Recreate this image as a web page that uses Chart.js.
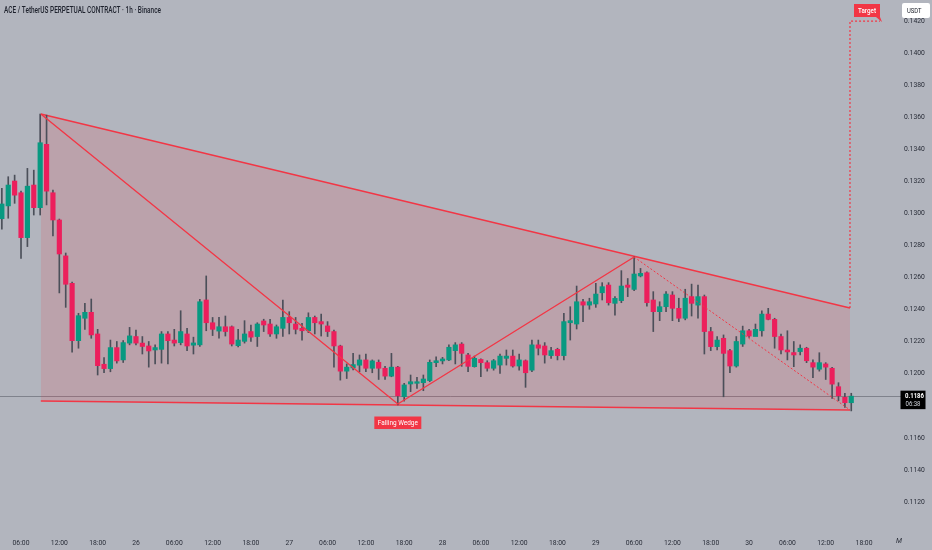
<!DOCTYPE html>
<html>
<head>
<meta charset="utf-8">
<script src="https://cdn.jsdelivr.net/npm/chart.js@4.4.0/dist/chart.umd.min.js"></script>
<style>
  html, body { margin: 0; padding: 0; background: #b2b5be; }
  #wrap { width: 932px; height: 550px; position: relative; }
</style>
</head>
<body>
<div id="wrap"><canvas id="chart"></canvas></div>
<script>
// ACE/USDT perp, 1h candles, first candle = 25th 03:00
const candleOpen = [
  0.12967, 0.13047, 0.13202, 0.13129, 0.12849, 0.13177, 0.13036, 0.13431, 0.13129, 0.12959,
  0.12735, 0.12564, 0.12206, 0.12346, 0.12383, 0.12248, 0.12059, 0.12032, 0.12163, 0.12086,
  0.12191, 0.12232, 0.12191, 0.12173, 0.12148, 0.12152, 0.12248, 0.12210, 0.12194, 0.12248,
  0.12178, 0.12180, 0.12460, 0.12318, 0.12266, 0.12293, 0.12293, 0.12175, 0.12202, 0.12263,
  0.12232, 0.12329, 0.12310, 0.12248, 0.12283, 0.12351, 0.12310, 0.12283, 0.12268, 0.12351,
  0.12325, 0.12298, 0.12263, 0.12173, 0.12016, 0.12036, 0.12053, 0.12086, 0.12034, 0.12071,
  0.12034, 0.11985, 0.12041, 0.11857, 0.11936, 0.11940, 0.11944, 0.11957, 0.12069, 0.12080,
  0.12086, 0.12144, 0.12185, 0.12117, 0.12044, 0.12089, 0.12069, 0.12034, 0.12054, 0.12096,
  0.12110, 0.12048, 0.12081, 0.12022, 0.12180, 0.12173, 0.12113, 0.12152, 0.12113, 0.12318,
  0.12310, 0.12449, 0.12428, 0.12435, 0.12505, 0.12553, 0.12439, 0.12456, 0.12553, 0.12526,
  0.12610, 0.12630, 0.12460, 0.12387, 0.12418, 0.12491, 0.12408, 0.12346, 0.12481, 0.12428,
  0.12481, 0.12263, 0.12169, 0.12221, 0.12144, 0.12048, 0.12185, 0.12268, 0.12232, 0.12268,
  0.12372, 0.12339, 0.12232, 0.12148, 0.12132, 0.12138, 0.12159, 0.12069, 0.12028, 0.12061,
  0.12034, 0.11919, 0.11853, 0.11819
];
const candleHigh = [
  0.13156, 0.13229, 0.13239, 0.13140, 0.13281, 0.13270, 0.13620, 0.13613, 0.13145, 0.12965,
  0.12753, 0.12572, 0.12377, 0.12439, 0.12466, 0.12277, 0.12100, 0.12210, 0.12201, 0.12207,
  0.12289, 0.12272, 0.12232, 0.12201, 0.12180, 0.12263, 0.12263, 0.12277, 0.12393, 0.12283,
  0.12228, 0.12464, 0.12610, 0.12351, 0.12351, 0.12360, 0.12298, 0.12277, 0.12331, 0.12304,
  0.12318, 0.12340, 0.12340, 0.12304, 0.12460, 0.12387, 0.12351, 0.12314, 0.12380, 0.12360,
  0.12372, 0.12325, 0.12272, 0.12178, 0.12061, 0.12127, 0.12117, 0.12123, 0.12086, 0.12086,
  0.12046, 0.12127, 0.12046, 0.11940, 0.11992, 0.11978, 0.11992, 0.12086, 0.12106, 0.12102,
  0.12180, 0.12194, 0.12194, 0.12127, 0.12110, 0.12093, 0.12081, 0.12089, 0.12123, 0.12148,
  0.12148, 0.12123, 0.12086, 0.12210, 0.12210, 0.12194, 0.12165, 0.12159, 0.12377, 0.12418,
  0.12547, 0.12464, 0.12471, 0.12564, 0.12568, 0.12568, 0.12481, 0.12643, 0.12594, 0.12729,
  0.12657, 0.12636, 0.12512, 0.12449, 0.12512, 0.12512, 0.12471, 0.12527, 0.12559, 0.12553,
  0.12491, 0.12289, 0.12232, 0.12242, 0.12152, 0.12232, 0.12297, 0.12277, 0.12310, 0.12393,
  0.12408, 0.12346, 0.12248, 0.12268, 0.12201, 0.12180, 0.12165, 0.12086, 0.12131, 0.12069,
  0.12040, 0.11944, 0.11878, 0.11878
];
const candleLow = [
  0.12901, 0.12970, 0.13063, 0.12720, 0.12793, 0.12990, 0.12990, 0.13053, 0.12859, 0.12504,
  0.12414, 0.12134, 0.12159, 0.12277, 0.12221, 0.11992, 0.12006, 0.12012, 0.12066, 0.12070,
  0.12180, 0.12180, 0.12123, 0.12041, 0.12061, 0.12066, 0.12061, 0.12173, 0.12180, 0.12144,
  0.12123, 0.12170, 0.12268, 0.12238, 0.12221, 0.12235, 0.12173, 0.12167, 0.12191, 0.12201,
  0.12170, 0.12263, 0.12232, 0.12221, 0.12232, 0.12248, 0.12248, 0.12210, 0.12256, 0.12248,
  0.12235, 0.12232, 0.12041, 0.11960, 0.11970, 0.12024, 0.12012, 0.12012, 0.12006, 0.11964,
  0.11964, 0.11981, 0.11805, 0.11829, 0.11888, 0.11909, 0.11894, 0.11950, 0.12044, 0.12061,
  0.12081, 0.12061, 0.12046, 0.12012, 0.12041, 0.11981, 0.12016, 0.12022, 0.12002, 0.12054,
  0.12041, 0.12022, 0.11915, 0.12012, 0.12117, 0.12066, 0.12096, 0.12086, 0.12086, 0.12210,
  0.12279, 0.12325, 0.12402, 0.12414, 0.12460, 0.12428, 0.12366, 0.12443, 0.12481, 0.12518,
  0.12604, 0.12422, 0.12263, 0.12331, 0.12387, 0.12331, 0.12325, 0.12336, 0.12360, 0.12346,
  0.12123, 0.12144, 0.12148, 0.11856, 0.12006, 0.12041, 0.12170, 0.12227, 0.12243, 0.12235,
  0.12336, 0.12159, 0.12123, 0.12086, 0.12044, 0.12117, 0.12069, 0.11976, 0.12016, 0.11964,
  0.11846, 0.11831, 0.11790, 0.11768
];
const candleClose = [
  0.13059, 0.13177, 0.13114, 0.12849, 0.13170, 0.13036, 0.13441, 0.13139, 0.12959, 0.12747,
  0.12558, 0.12206, 0.12362, 0.12383, 0.12242, 0.12050, 0.12032, 0.12163, 0.12080, 0.12194,
  0.12236, 0.12191, 0.12170, 0.12142, 0.12163, 0.12248, 0.12206, 0.12191, 0.12263, 0.12173,
  0.12192, 0.12449, 0.12318, 0.12277, 0.12293, 0.12263, 0.12185, 0.12210, 0.12248, 0.12228,
  0.12310, 0.12304, 0.12248, 0.12293, 0.12351, 0.12318, 0.12277, 0.12268, 0.12351, 0.12318,
  0.12310, 0.12263, 0.12173, 0.12016, 0.12041, 0.12057, 0.12086, 0.12034, 0.12080, 0.12034,
  0.11985, 0.12041, 0.11862, 0.11930, 0.11950, 0.11950, 0.11967, 0.12071, 0.12081, 0.12092,
  0.12165, 0.12180, 0.12127, 0.12046, 0.12096, 0.12069, 0.12034, 0.12081, 0.12110, 0.12110,
  0.12048, 0.12086, 0.12006, 0.12180, 0.12159, 0.12117, 0.12144, 0.12113, 0.12325, 0.12331,
  0.12449, 0.12428, 0.12449, 0.12497, 0.12543, 0.12443, 0.12470, 0.12547, 0.12539, 0.12622,
  0.12626, 0.12443, 0.12387, 0.12418, 0.12497, 0.12408, 0.12346, 0.12471, 0.12439, 0.12481,
  0.12263, 0.12169, 0.12210, 0.12127, 0.12048, 0.12201, 0.12268, 0.12235, 0.12277, 0.12372,
  0.12339, 0.12232, 0.12148, 0.12136, 0.12117, 0.12159, 0.12081, 0.12041, 0.12069, 0.12041,
  0.11935, 0.11862, 0.11819, 0.11860
];

// time axis: a label every 6 candles, starting at candle 3 (25th 06:00)
const xTickLabels = ['06:00', '12:00', '18:00', '26', '06:00', '12:00', '18:00', '27',
  '06:00', '12:00', '18:00', '28', '06:00', '12:00', '18:00', '29',
  '06:00', '12:00', '18:00', '30', '06:00', '12:00', '18:00'];
const yTicks = [0.1120, 0.1140, 0.1160, 0.1180, 0.1200, 0.1220, 0.1240, 0.1260, 0.1280,
  0.1300, 0.1320, 0.1340, 0.1360, 0.1380, 0.1400, 0.1420];

// falling wedge drawing (candle index, price)
const wedgeX = [6.1, 132.8];
const wedgeUpper = [0.13620, 0.12410];
const wedgeLower = [0.11830, 0.11774];
const zigzagX = [6.1, 62, 99];
const zigzagY = [0.13620, 0.11811, 0.12728];
const projX = [99, 132.8];
const projY = [0.12728, 0.11774];
const targetPrice = 0.1420;
const lastPrice = 0.1186;

const GREEN = '#089981';
const RED = '#ec1f5c';
const LINE_RED = '#f23645';

const idx = candleOpen.map((_, i) => i);
const bodyColors = idx.map(i => candleClose[i] >= candleOpen[i] ? GREEN : RED);
const pts = (xs, ys) => xs.map((x, i) => ({ x: x, y: ys[i] }));

function fitText(ctx, text, x, y, w) {
  const m = ctx.measureText(text).width;
  ctx.save();
  ctx.translate(x, y);
  ctx.scale(w / m, 1);
  ctx.fillText(text, 0, 0);
  ctx.restore();
}

const overlay = {
  id: 'overlay',
  beforeDatasetsDraw(chart) {
    const { ctx, scales: { y } } = chart;
    const py = Math.round(y.getPixelForValue(lastPrice)) + 0.5;
    ctx.save();
    ctx.strokeStyle = 'rgba(85,88,98,0.55)';
    ctx.lineWidth = 1;
    ctx.beginPath();
    ctx.moveTo(0, py);
    ctx.lineTo(901, py);
    ctx.stroke();
    ctx.restore();
  },
  afterDraw(chart) {
    const { ctx, scales: { x, y } } = chart;
    ctx.save();

    // title
    ctx.fillStyle = '#1e222d';
    ctx.font = '500 9px Roboto';
    ctx.textBaseline = 'alphabetic';
    ctx.textAlign = 'left';
    fitText(ctx, 'ACE / TetherUS PERPETUAL CONTRACT · 1h · Binance', 4, 13, 157);

    // Falling Wedge label
    const fx = x.getPixelForValue(zigzagX[1]);
    const fy = y.getPixelForValue(zigzagY[1]) + 12.5;
    ctx.fillStyle = LINE_RED;
    ctx.fillRect(fx - 23.5, fy, 47, 12.5);
    ctx.fillStyle = '#ffffff';
    ctx.font = '7.5px Roboto';
    ctx.textBaseline = 'middle';
    fitText(ctx, 'Falling Wedge', fx - 20, fy + 6.5, 40);

    // Target callout
    const ty = y.getPixelForValue(targetPrice);
    ctx.fillStyle = LINE_RED;
    ctx.beginPath();
    ctx.moveTo(854, ty - 17);
    ctx.lineTo(880, ty - 17);
    ctx.lineTo(880, ty - 4);
    ctx.lineTo(882, ty + 1);
    ctx.lineTo(876, ty - 4);
    ctx.lineTo(854, ty - 4);
    ctx.closePath();
    ctx.fill();
    ctx.fillStyle = '#ffffff';
    ctx.font = '500 7px Roboto';
    fitText(ctx, 'Target', 858, ty - 10.3, 18);

    // currency box
    ctx.fillStyle = '#ffffff';
    ctx.beginPath();
    ctx.roundRect(902, 3, 28, 15, 2);
    ctx.fill();
    ctx.fillStyle = '#131722';
    ctx.font = '7px Roboto';
    fitText(ctx, 'USDT', 907, 10.8, 14.5);

    // last price box
    const py = y.getPixelForValue(lastPrice);
    ctx.fillStyle = '#000000';
    ctx.fillRect(900.5, py - 5.5, 25, 18.5);
    ctx.fillStyle = '#ffffff';
    ctx.font = 'bold 7px Roboto';
    fitText(ctx, lastPrice.toFixed(4), 905, py, 19);
    ctx.fillStyle = '#d1d4dc';
    ctx.font = '6.5px Roboto';
    fitText(ctx, '06:38', 905.5, py + 8.5, 15);

    // scale toggle
    ctx.fillStyle = '#2a2e39';
    ctx.font = 'italic 7px Roboto';
    ctx.fillText('M', 896, 541);

    ctx.restore();
  }
};

const ctx = document.getElementById('chart').getContext('2d');
const chart = new Chart(ctx, {
  type: 'bar',
  data: {
    datasets: [
      {
        type: 'line',
        data: pts(zigzagX, zigzagY),
        borderColor: LINE_RED,
        borderWidth: 1.4,
        pointRadius: 0,
        order: 1
      },
      {
        type: 'line',
        data: pts(projX, projY),
        borderColor: LINE_RED,
        borderWidth: 1,
        borderDash: [2, 2],
        pointRadius: 0,
        order: 1
      },
      {
        type: 'line',
        data: [{ x: wedgeX[1], y: wedgeUpper[1] }, { x: wedgeX[1], y: targetPrice }, { x: 137.5, y: targetPrice }],
        borderColor: LINE_RED,
        borderWidth: 1.2,
        borderDash: [2, 2],
        pointRadius: 0,
        order: 1
      },
      {
        data: idx.map(i => ({ x: i, y: [candleOpen[i], candleClose[i]] })),
        backgroundColor: bodyColors,
        barThickness: 4.5,
        grouped: false,
        borderWidth: 0,
        order: 2
      },
      {
        data: idx.map(i => ({ x: i, y: [candleLow[i], candleHigh[i]] })),
        backgroundColor: '#4b4f59',
        barThickness: 1,
        grouped: false,
        borderWidth: 0,
        order: 3
      },
      {
        type: 'line',
        data: pts(wedgeX, wedgeLower),
        borderColor: LINE_RED,
        borderWidth: 1.4,
        pointRadius: 0,
        order: 4
      },
      {
        type: 'line',
        data: pts(wedgeX, wedgeUpper),
        borderColor: LINE_RED,
        borderWidth: 1.4,
        pointRadius: 0,
        fill: { target: 5 },
        backgroundColor: 'rgba(242,54,69,0.15)',
        order: 5
      }
    ]
  },
  options: {
    responsive: true,
    maintainAspectRatio: false,
    animation: false,
    events: [],
    layout: { padding: 0 },
    plugins: {
      legend: { display: false },
      tooltip: { enabled: false }
    },
    scales: {
      x: {
        type: 'linear',
        min: -0.29,
        max: 137.5,
        offset: false,
        grid: { display: false, drawTicks: false },
        border: { display: false },
        afterBuildTicks: s => { s.ticks = xTickLabels.map((l, k) => ({ value: 3 + 6 * k })); },
        afterFit: s => { s.height = 20; },
        ticks: {
          autoSkip: false,
          maxRotation: 0,
          padding: 9,
          color: '#2a2e39',
          font: { family: 'Roboto', size: 6.8 },
          callback: (v, i) => xTickLabels[i]
        }
      },
      y: {
        position: 'right',
        min: 0.11025,
        max: 0.14306,
        // invisible tick length keeps the labels off the plot edge
        grid: { display: false, drawTicks: true, tickLength: 24 },
        border: { display: false },
        afterBuildTicks: s => { s.ticks = yTicks.map(v => ({ value: v })); },
        afterFit: s => { s.width = 52; },
        ticks: {
          padding: 0,
          color: '#2a2e39',
          font: { family: 'Roboto', size: 6.8 },
          callback: v => v.toFixed(4)
        }
      }
    }
  },
  plugins: [overlay]
});
</script>
</body>
</html>
